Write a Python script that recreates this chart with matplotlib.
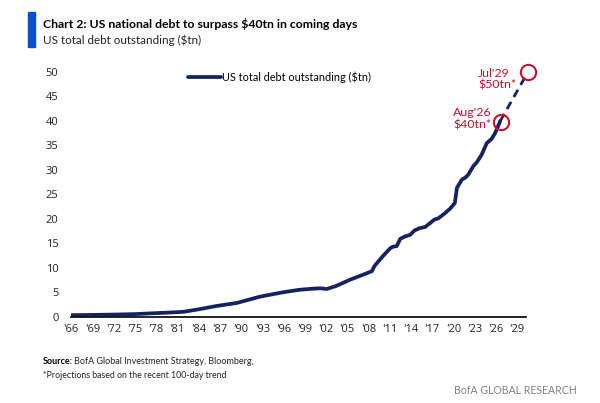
import matplotlib
matplotlib.use("Agg")
import matplotlib.pyplot as plt
from matplotlib.patches import Rectangle

TXT = 'Lato'
TICKF = 'Open Sans'

# ---- data ----
years = [1966.0, 1969.0, 1972.0, 1975.0, 1977.2, 1979.5, 1981.9, 1984.0, 1986.6, 1989.4,
         1992.7, 1996.0, 1998.3, 2000.0, 2001.2, 2002.1, 2003.5, 2005.4, 2007.3, 2008.5,
         2008.8, 2009.0, 2010.0, 2011.1, 2011.5, 2012.0, 2012.5, 2013.2, 2013.9, 2014.5,
         2015.3, 2016.0, 2016.7, 2017.3, 2017.9, 2018.7, 2019.5, 2020.2, 2020.5, 2021.2,
         2021.7, 2022.1, 2022.8, 2023.3, 2024.0, 2024.7, 2025.4, 2025.9, 2026.6]
debt = [0.32, 0.36, 0.43, 0.53, 0.68, 0.82, 1.0, 1.5, 2.2, 2.8,
        4.1, 5.0, 5.5, 5.7, 5.8, 5.65, 6.3, 7.55, 8.6, 9.3,
        10.2, 10.6, 12.3, 14.0, 14.3, 14.4, 15.9, 16.4, 16.7, 17.6,
        18.1, 18.3, 19.1, 19.8, 20.1, 21.0, 22.0, 23.2, 26.3, 28.0,
        28.4, 29.0, 30.7, 31.5, 33.1, 35.4, 36.3, 37.5, 39.9]
proj_years = [2026.6, 2030.55]
proj_debt = [39.9, 50.0]
marker_years = [2026.75, 2030.55]
marker_debt = [39.7, 50.0]
marker_labels = ["Aug'26\n$40tn*", "Jul'29\n$50tn*"]
tick_years = list(range(1966, 2030, 3))
tick_labels = ["'" + str(y)[2:] for y in tick_years]
y_ticks = list(range(0, 51, 5))

NAVY = '#14235f'
RED = '#c8102e'

fig = plt.figure(figsize=(6.0, 4.03), dpi=100)
ax = fig.add_axes([71/600, (403-316.7)/403, (526-71)/600, (316.7-61.9)/403])

ax.plot(years, debt, color=NAVY, lw=2.7, solid_joinstyle='round', solid_capstyle='round',
        label='US total debt outstanding ($tn)')
ax.plot(proj_years, proj_debt, color=NAVY, lw=2.0, ls=(0, (3, 2)))
ax.plot(marker_years, marker_debt, ls='none', marker='o', ms=11, mfc='none', mec=RED, mew=1.5,
        clip_on=False)
ax.text(2019.95, 40.4, marker_labels[0], color=RED, fontsize=8.9,
        family=TXT, ha='left', va='center', linespacing=1.1)
ax.text(2023.5, 48.4, marker_labels[1], color=RED, fontsize=8.9,
        family=TXT, ha='left', va='center', linespacing=1.1, clip_on=False)

ax.set_xlim(1966, 2030.25)
ax.set_ylim(0, 52)
ax.set_xticks(tick_years)
ax.set_xticklabels(tick_labels)
ax.set_yticks(y_ticks)
for s in ['top', 'right', 'left']:
    ax.spines[s].set_visible(False)
ax.spines['bottom'].set_linewidth(1.3)
ax.spines['bottom'].set_color('#111111')
ax.tick_params(axis='both', length=0, labelsize=8, colors='#222222')
ax.tick_params(axis='y', pad=9)
ax.tick_params(axis='x', pad=5)
for lab in ax.get_xticklabels() + ax.get_yticklabels():
    lab.set_family(TICKF)

leg = ax.legend(loc='center left', bbox_to_anchor=(0.248, 0.94), frameon=False,
                prop={'family': TXT, 'size': 7.8}, handlelength=3.0, handletextpad=0.1,
                borderaxespad=0)

# header
fig.patches.append(Rectangle((28/600, 1-46.7/403), 7/600, 35/403, transform=fig.transFigure,
                             color='#0b4fd1', zorder=5))
fig.text(43/600, 1-24/403, 'Chart 2: US national debt to surpass $40tn in coming days',
         fontsize=8.8, weight='bold', family=TXT, va='center', ha='left')
fig.text(43/600, 1-40/403, 'US total debt outstanding ($tn)', fontsize=8.4,
         family=TXT, va='center', ha='left', color='#222222')

# footer
fig.text(43/600, 1-361.7/403, 'Source:', fontsize=6.5, weight='bold', family=TXT,
         va='center', ha='left')
fig.text(74/600, 1-361.7/403, 'BofA Global Investment Strategy, Bloomberg,', fontsize=6.5,
         family=TXT, va='center', ha='left', color='#222222')
fig.text(43/600, 1-375.5/403, '*Projections based on the recent 100-day trend', fontsize=6.3,
         family=TXT, va='center', ha='left', color='#222222')
fig.text(577/600, 1-390/403, 'BofA GLOBAL RESEARCH', fontsize=7.6, family=TXT,
         va='center', ha='right', color='#7f7f7f')

fig.savefig('out.png', dpi=100)
